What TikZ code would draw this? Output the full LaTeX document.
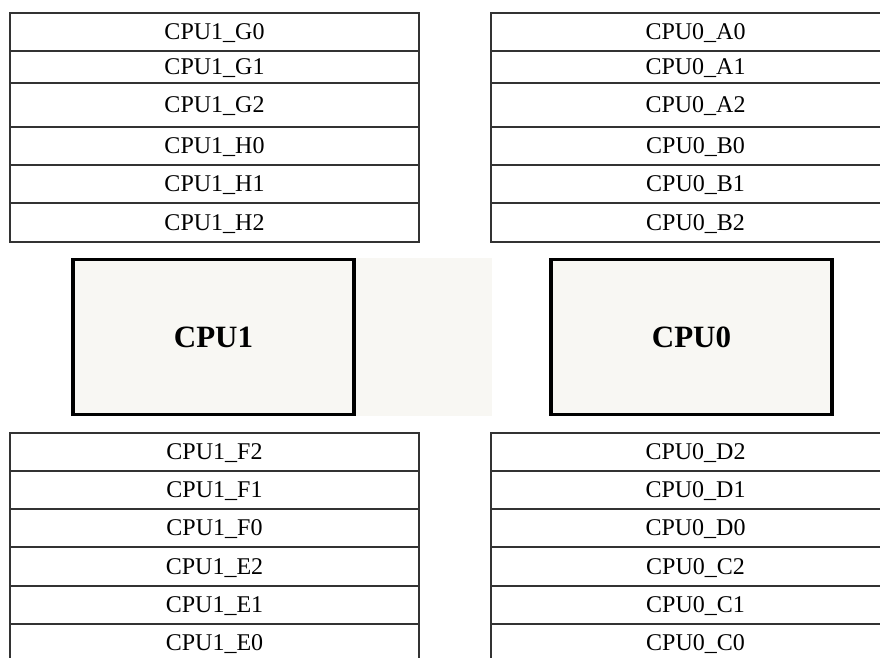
\documentclass[tikz,border=0pt]{standalone}
\usepackage{fontspec}
\setmainfont{Liberation Serif}
\usepackage{tikz}
\definecolor{chipfill}{RGB}{248,247,243}

\begin{document}
\begin{tikzpicture}[x=1pt, y=-1pt,
    cell/.style={draw=black!80, line width=1.3pt, minimum width=409pt,
      inner sep=0pt, text height=15.7pt, text depth=0pt,
      font=\fontsize{24}{24}\selectfont},
    chip/.style={draw=black, line width=3.5pt, fill=chipfill,
      minimum width=281pt, minimum height=155pt, inner sep=0pt,
      text height=20.3pt, text depth=0pt,
      font=\fontsize{31}{31}\selectfont\bfseries}
  ]
    \useasboundingbox (0,0) rectangle (880,657);

    % shaded strip between the two chips
    \fill[chipfill] (212.5,258) rectangle (492,416);
    \node[chip] (cpu1) at (213.5,337) {CPU1};
    \node[chip] (cpu0) at (691.5,337) {CPU0};

    % upper rows
    \foreach \lft/\rgt/\yc/\rh in {G0/A0/32/38, G1/A1/67/32, G2/A2/105/44,
        H0/B0/146/38, H1/B1/184/38, H2/B2/222.5/39} {
      \node[cell, minimum height=\rh pt] (c1\lft) at (214.5,\yc) {CPU1\_\lft};
      \node[cell, minimum height=\rh pt] (c0\rgt) at (695.5,\yc) {CPU0\_\rgt};
    }

    % lower rows
    \foreach \lft/\rgt/\yc/\rh in {F2/D2/452/38, F1/D1/490/38, F0/D0/528/38,
        E2/C2/566.5/39, E1/C1/605/38, E0/C0/643/38} {
      \node[cell, minimum height=\rh pt] (c1\lft) at (214.5,\yc) {CPU1\_\lft};
      \node[cell, minimum height=\rh pt] (c0\rgt) at (695.5,\yc) {CPU0\_\rgt};
    }
\end{tikzpicture}
\end{document}
